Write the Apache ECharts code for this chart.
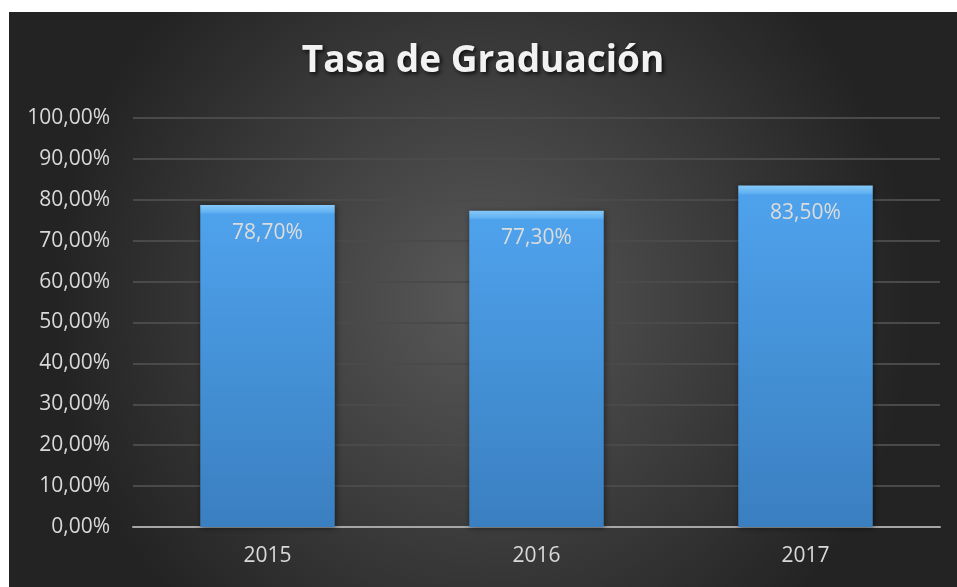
<!DOCTYPE html>
<html>
<head>
<meta charset="utf-8">
<script src="https://cdn.jsdelivr.net/npm/echarts@6/dist/echarts.min.js"></script>
<style>
    body { margin: 0; background: #ffffff; }
    #MyChart { position: absolute; left: 9px; top: 12px; width: 948px; height: 575px; }
</style>
</head>
<body>
<div id="MyChart"></div>
<script>
// 数据
var Years = ['2015', '2016', '2017']
var Rates = [78.7, 77.3, 83.5]
var YTicks = [0, 10, 20, 30, 40, 50, 60, 70, 80, 90, 100]

function fmt(v) {
    return v.toFixed(2).replace('.', ',') + '%'
}

var chartDom = document.getElementById('MyChart');
var myChart = echarts.init(chartDom);
var option;

option = {
    animation: false,
    backgroundColor: {
        type: 'radial', x: 0.5, y: 0.5, r: 0.75,
        colorStops: [
            {offset: 0, color: '#595959'},
            {offset: 1, color: '#232323'}
        ]
    },
    title: {
        text: 'Tasa de Graduación',
        left: 'center',
        top: 26,
        textStyle: {
            color: '#f2f2f2',
            fontFamily: 'Open Sans',
            fontWeight: 'bold',
            fontSize: 37,
            textShadowColor: 'rgba(0,0,0,0.8)',
            textShadowBlur: 4,
            textShadowOffsetX: 2,
            textShadowOffsetY: 2
        }
    },
    grid: {
        left: 124,
        right: 17,
        top: 106,
        bottom: 60
    },
    xAxis: {
        type: 'category',
        data: Years,
        axisTick: {show: false},
        axisLine: {lineStyle: {color: '#a6a6a6', width: 2}},
        axisLabel: {
            color: '#d9d9d9',
            fontSize: 21,
            fontFamily: 'Open Sans',
            margin: 19
        }
    },
    yAxis: {
        type: 'value',
        min: YTicks[0],
        max: YTicks[YTicks.length - 1],
        interval: 10,
        axisLine: {show: false},
        axisTick: {show: false},
        splitLine: {lineStyle: {color: '#4a4a4a', width: 2}},
        axisLabel: {
            color: '#d9d9d9',
            fontSize: 21,
            fontFamily: 'Open Sans',
            margin: 23,
            formatter: function (v) { return fmt(v) }
        }
    },
    series: [
        {
            type: 'bar',
            data: Rates,
            barWidth: '50%',
            itemStyle: {
                // 顶部加一条浅色斜面
                color: {
                    type: 'linear', x: 0, y: 0, x2: 0, y2: 1,
                    colorStops: [
                        {offset: 0, color: '#85c8f8'},
                        {offset: 0.022, color: '#62b2f2'},
                        {offset: 0.028, color: '#4ea2ec'},
                        {offset: 1, color: '#3a7fc0'}
                    ]
                },
                shadowColor: 'rgba(0,0,0,0.5)',
                shadowBlur: 6,
                shadowOffsetX: 1,
                shadowOffsetY: 1
            },
            label: {
                show: true,
                position: 'insideTop',
                distance: 17,
                color: '#dcdcdc',
                fontSize: 21,
                fontFamily: 'Open Sans',
                formatter: function (p) { return fmt(p.value) }
            }
        }
    ]
};

option && myChart.setOption(option);
</script>
</body>
</html>
